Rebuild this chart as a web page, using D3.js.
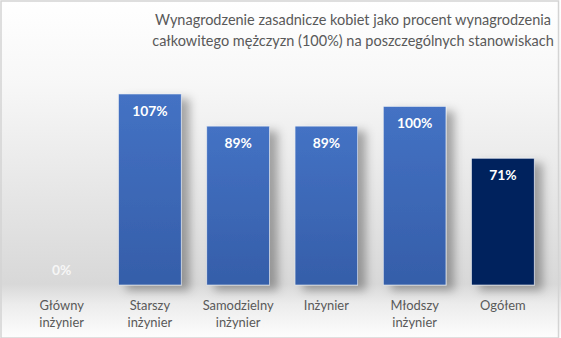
<!DOCTYPE html>
<html lang="pl">
<head>
<meta charset="utf-8">
<script src="https://cdn.jsdelivr.net/npm/d3@7"></script>
<style>
  html, body { margin: 0; padding: 0; background: #ffffff; }
  svg { display: block; }
</style>
</head>
<body>
<svg id="chart" width="561" height="338"></svg>
<script>
// Stanowiska i wartości (%)
const categories = [
  ["Główny", "inżynier"],
  ["Starszy", "inżynier"],
  ["Samodzielny", "inżynier"],
  ["Inżynier"],
  ["Młodszy", "inżynier"],
  ["Ogółem"]
];
const values = [0, 107, 89, 89, 100, 71];
const titleLines = [
  "Wynagrodzenie zasadnicze kobiet jako procent wynagrodzenia",
  "całkowitego mężczyzn (100%) na poszczególnych stanowiskach"
];

const W = 561, H = 338;
const FONT = "Lato, 'Open Sans', sans-serif";
const svg = d3.select("#chart");
const defs = svg.append("defs");

// Dobiera rozmiar czcionki tak, by wzorcowy napis miał zadaną szerokość
function fitSize(sample, width, weight) {
  const t = svg.append("text").attr("font-family", FONT)
    .attr("font-weight", weight || "normal").attr("font-size", 100).text(sample);
  const w = t.node().getComputedTextLength();
  t.remove();
  return 100 * width / w;
}

// Tło: biel u góry, szarość przy osi, rozjaśnienie pod etykietami
const bg = defs.append("linearGradient").attr("id", "bg")
  .attr("x1", 0).attr("y1", 0).attr("x2", 0).attr("y2", 1);
[[0, "#ffffff"], [0.25, "#f7f7f7"], [0.84, "#d8d8d8"], [0.9, "#ececec"], [1, "#fdfdfd"]]
  .forEach(([o, c]) => bg.append("stop").attr("offset", o).attr("stop-color", c));

const blue = defs.append("linearGradient").attr("id", "blue")
  .attr("x1", 0).attr("y1", 0).attr("x2", 0).attr("y2", 1);
blue.append("stop").attr("offset", 0).attr("stop-color", "#4472c4");
blue.append("stop").attr("offset", 1).attr("stop-color", "#355ea9");

const shadow = defs.append("filter").attr("id", "shadow")
  .attr("x", "-30%").attr("y", "-10%").attr("width", "180%").attr("height", "140%");
shadow.append("feDropShadow").attr("dx", 8).attr("dy", 5)
  .attr("stdDeviation", 5).attr("flood-color", "#000").attr("flood-opacity", 0.32);

svg.append("rect").attr("x", 0).attr("y", 0).attr("width", W).attr("height", H)
  .attr("fill", "url(#bg)");
svg.append("rect").attr("x", 1).attr("y", 1).attr("width", W - 3.5).attr("height", H - 1)
  .attr("fill", "none").attr("stroke", "#d4d4d4").attr("stroke-width", 1.5);

// Tytuł
const titleSize = fitSize(titleLines[0], 396);
svg.append("g").selectAll("text").data(titleLines).join("text")
  .attr("x", 353).attr("y", (d, i) => 25 + i * 21)
  .attr("text-anchor", "middle")
  .attr("font-family", FONT)
  .attr("font-size", titleSize).attr("fill", "#595959")
  .text(d => d);

const x = d3.scaleBand()
  .domain(d3.range(categories.length))
  .range([17.5, 547])
  .paddingInner(0.29).paddingOuter(0.145);

const y = d3.scaleLinear().domain([0, 107]).range([285, 94]);

const bars = svg.append("g");
bars.selectAll("rect").data(values).join("rect")
  .attr("x", (d, i) => x(i))
  .attr("y", d => y(d))
  .attr("width", x.bandwidth())
  .attr("height", d => y(0) - y(d))
  .attr("fill", (d, i) => i === values.length - 1 ? "#02215d" : "url(#blue)")
  .attr("stroke", "#e4e9f2").attr("stroke-width", 0.6)
  .attr("filter", "url(#shadow)");

// Etykiety wartości
const valueSize = fitSize("107%", 35.5, "bold");
svg.append("g").selectAll("text").data(values).join("text")
  .attr("x", (d, i) => x(i) + x.bandwidth() / 2)
  .attr("y", d => d === 0 ? y(0) - 10 : y(d) + 22)
  .attr("text-anchor", "middle")
  .attr("font-family", FONT)
  .attr("font-weight", "bold")
  .attr("font-size", valueSize)
  .attr("fill", d => d === 0 ? "#f6f6f6" : "#ffffff")
  .text(d => d + "%");

// Etykiety kategorii
const catSize = fitSize("Samodzielny", 71);
const cat = svg.append("g").selectAll("text").data(categories).join("text")
  .attr("text-anchor", "middle")
  .attr("font-family", FONT)
  .attr("font-size", catSize).attr("fill", "#595959");
cat.selectAll("tspan").data((d, i) => d.map(t => ({ t, i }))).join("tspan")
  .attr("x", d => x(d.i) + x.bandwidth() / 2)
  .attr("y", (d, j) => 309.5 + j * 17.6)
  .text(d => d.t);
</script>
</body>
</html>
